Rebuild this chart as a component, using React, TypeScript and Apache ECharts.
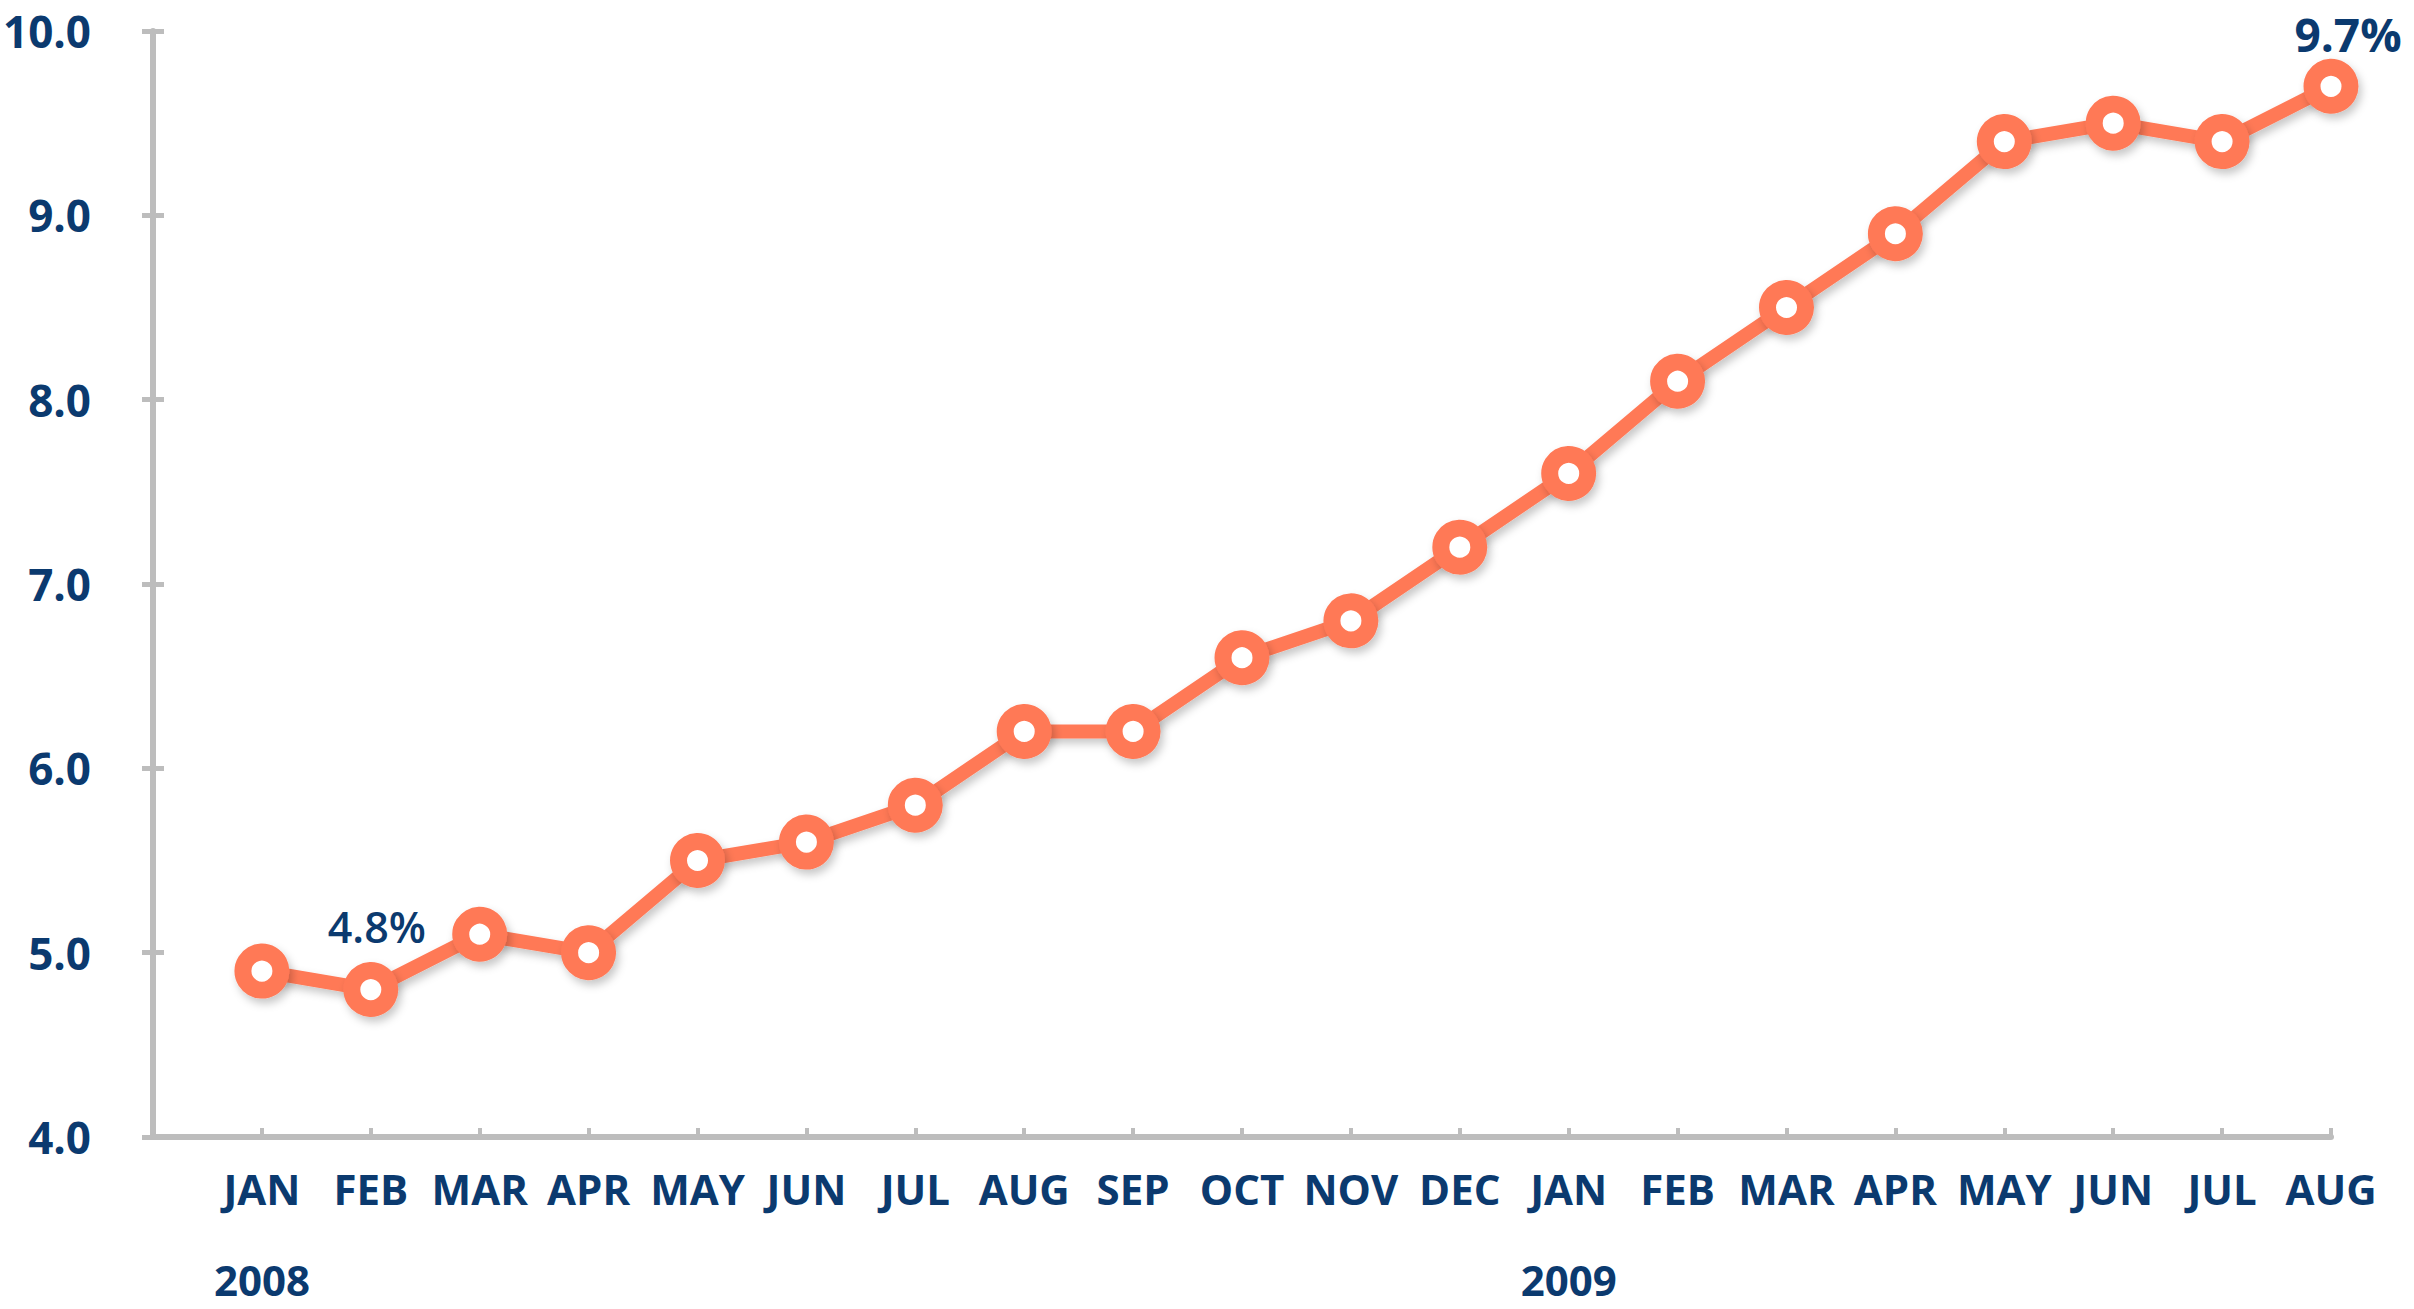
import React, { useEffect, useRef } from "react";
import * as echarts from "echarts";

const months = ["", "JAN", "FEB", "MAR", "APR", "MAY", "JUN", "JUL", "AUG", "SEP", "OCT", "NOV", "DEC",
  "JAN", "FEB", "MAR", "APR", "MAY", "JUN", "JUL", "AUG"];
const years = ["", "2008", "", "", "", "", "", "", "", "", "", "", "", "2009", "", "", "", "", "", "", ""];
const rate = [null, 4.9, 4.8, 5.1, 5.0, 5.5, 5.6, 5.8, 6.2, 6.2, 6.6, 6.8, 7.2,
  7.6, 8.1, 8.5, 8.9, 9.4, 9.5, 9.4, 9.7];
const yTicks = { min: 4, max: 10, interval: 1 };
const labelledPoints = [2, 20];

const NAVY = "#0B3A6F";
const ORANGE = "#FF7957";
const AXIS = "#BDBDBD";
const FONT = "'Open Sans', sans-serif";

export default function App() {
  const ref = useRef<HTMLDivElement>(null);
  useEffect(() => {
    document.body.style.margin = "0";
    const chart = echarts.init(ref.current!, null, { renderer: "svg" });
    const data = rate.map((v, i) => {
      if (v === null) return "-";
      if (labelledPoints.includes(i)) {
        const big = i === 20;
        return {
          value: v,
          label: {
            show: true,
            position: "top",
            distance: big ? 4 : 14,
            offset: big ? [17, 2] : [6, 0],
            formatter: (p: any) => p.value.toFixed(1) + "%",
            color: NAVY,
            fontFamily: FONT,
            fontWeight: big ? "bold" : 600,
            fontSize: big ? 46 : 43,
          },
        };
      }
      return v;
    });
    const yBase = {
      type: "value",
      min: yTicks.min,
      max: yTicks.max,
      interval: yTicks.interval,
      splitLine: { show: false },
    };
    chart.setOption({
      animation: false,
      backgroundColor: "#ffffff",
      grid: { left: 151, right: 83, top: 31, bottom: 172, containLabel: false },
      xAxis: {
        type: "category",
        data: months,
        boundaryGap: false,
        axisLine: { lineStyle: { color: AXIS, width: 6 } },
        axisTick: { inside: true, length: 9, lineStyle: { color: AXIS, width: 4 }, interval: 0 },
        axisLabel: {
          interval: 0,
          margin: 28,
          formatter: (v: string, i: number) =>
            years[i] ? `{m|${v}}\n{y|${years[i]}}` : `{m|${v}}`,
          rich: {
            m: { fontFamily: FONT, fontWeight: "bold", fontSize: 42, color: NAVY, lineHeight: 46 },
            y: { fontFamily: FONT, fontWeight: "bold", fontSize: 42, color: NAVY, lineHeight: 136 },
          },
        },
      },
      yAxis: [
        {
          ...yBase,
          axisLine: { show: true, lineStyle: { color: AXIS, width: 6 } },
          axisTick: { show: true, length: 11, lineStyle: { color: AXIS, width: 5 } },
          axisLabel: {
            margin: 62,
            formatter: (v: number) => v.toFixed(1),
            fontFamily: FONT,
            fontWeight: "bold",
            fontSize: 44,
            color: NAVY,
          },
        },
        {
          ...yBase,
          position: "left",
          axisLine: { show: false },
          axisTick: { show: true, inside: true, length: 11, lineStyle: { color: AXIS, width: 5 } },
          axisLabel: { show: false },
        },
      ],
      series: [
        {
          type: "line",
          data,
          yAxisIndex: 0,
          symbol: "circle",
          symbolSize: 38,
          showAllSymbol: true,
          lineStyle: {
            color: ORANGE,
            width: 14,
            shadowColor: "rgba(0,0,0,0.22)",
            shadowBlur: 8,
            shadowOffsetX: 3,
            shadowOffsetY: 5,
          },
          itemStyle: {
            color: "#ffffff",
            borderColor: ORANGE,
            borderWidth: 17,
            shadowColor: "rgba(0,0,0,0.22)",
            shadowBlur: 8,
            shadowOffsetX: 3,
            shadowOffsetY: 5,
          },
        },
      ],
    });
    return () => chart.dispose();
  }, []);
  return <div ref={ref} style={{ width: 2414, height: 1309 }} />;
}
